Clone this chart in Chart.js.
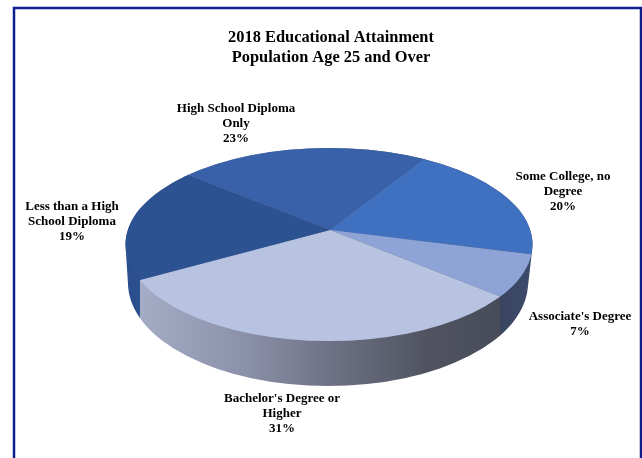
<!DOCTYPE html>
<html>
<head>
<meta charset="utf-8">
<title>2018 Educational Attainment</title>
<script src="https://cdn.jsdelivr.net/npm/chart.js@4/dist/chart.umd.min.js"></script>
<style>
  html, body { margin: 0; padding: 0; background: #fff; overflow: hidden; }
  #wrap { position: relative; width: 642px; height: 458px; }
  #chart-0 { filter: blur(0.35px); } /* the source picture is a soft scan */
</style>
</head>
<body>
<div id="wrap"><canvas id="chart-0"></canvas></div>
<script>
// data
var titleLines = ['2018 Educational Attainment', 'Population Age 25 and Over'];
var categories = ['High School Diploma Only', 'Some College, no Degree', "Associate's Degree", "Bachelor's Degree or Higher", 'Less than a High School Diploma'];
var categoryLines = [['High School Diploma', 'Only'], ['Some College, no', 'Degree'], ["Associate's Degree"], ["Bachelor's Degree or", 'Higher'], ['Less than a High', 'School Diploma']];
var shares = [23, 20, 7, 31, 19];
var sliceColors = ['#3861aa', '#4070c0', '#8ea3d6', '#b7c3e0', '#2d5292'];

// the tilted look: where the pie sits on the page
var tilt = {
  apexX: 330, apexY: 230,
  topX: 329, topY: 244.5, topRx: 203.5, topRy: 96.5,
  botX: 328, botY: 283, botRx: 200, botRy: 103,
  squash: 0.475, zoom: 2, startDeg: 309.4
};
// centre of each label, first line baseline middle
var labelSpots = [[236, 109], [563, 177], [580, 317], [282, 399], [72, 207]];

function ellipsePath(ctx, x, y, rx, ry) {
  ctx.moveTo(x + rx, y);
  ctx.ellipse(x, y, rx, ry, 0, 0, Math.PI * 2);
}

// x where the slice edge at this angle meets the rim of the top ellipse
function rimX(angle) {
  var dx = Math.cos(angle), dy = tilt.squash * Math.sin(angle);
  var ox = (tilt.apexX - tilt.topX) / tilt.topRx, oy = (tilt.apexY - tilt.topY) / tilt.topRy;
  var ux = dx / tilt.topRx, uy = dy / tilt.topRy;
  var a = ux * ux + uy * uy, b = 2 * (ox * ux + oy * uy), c = ox * ox + oy * oy - 1;
  var t = (-b + Math.sqrt(b * b - 4 * a * c)) / (2 * a);
  return tilt.apexX + t * dx;
}

var piePlugin = {
  id: 'tiltedPie',
  beforeDraw: function(chart) {
    var ctx = chart.ctx;
    ctx.save();
    ctx.strokeStyle = '#0c1f8c';
    ctx.lineWidth = 2.5;
    ctx.strokeRect(14, 8, 627, 470); // frame runs off the bottom of the page
    ctx.restore();
  },
  beforeDatasetsDraw: function(chart) {
    var ctx = chart.ctx;
    var arcs = chart.getDatasetMeta(0).data;
    var left = tilt.topX - tilt.topRx, right = tilt.topX + tilt.topRx, span = right - left;
    var xB = (rimX(arcs[3].endAngle) - left) / span;   // bachelor / less than HS edge
    var xA = (rimX(arcs[3].startAngle) - left) / span; // associate / bachelor edge

    // side wall, shaded left to right
    var wall = ctx.createLinearGradient(left, 0, right, 0);
    wall.addColorStop(0, '#2a4e8e');
    wall.addColorStop(xB, '#2a4e8e');
    wall.addColorStop(xB, '#a4acc6');
    wall.addColorStop(xB + (xA - xB) * 0.3, '#8a90a8');
    wall.addColorStop(xB + (xA - xB) * 0.55, '#6c6f82');
    wall.addColorStop(xB + (xA - xB) * 0.8, '#50535f');
    wall.addColorStop(xA, '#484b59');
    wall.addColorStop(xA, '#3a4560');
    wall.addColorStop(1, '#3c4a6c');
    ctx.save();
    ctx.fillStyle = wall;
    ctx.beginPath();
    for (var i = 0; i <= 48; i++) {
      var t = i / 48;
      ellipsePath(ctx,
        tilt.topX + (tilt.botX - tilt.topX) * t,
        tilt.topY + (tilt.botY - tilt.topY) * t,
        tilt.topRx + (tilt.botRx - tilt.topRx) * t,
        tilt.topRy + (tilt.botRy - tilt.topRy) * t);
    }
    ctx.fill();
    ctx.restore();

    // the library draws the slices into this squashed, clipped space
    ctx.save();
    ctx.beginPath();
    ellipsePath(ctx, tilt.topX, tilt.topY, tilt.topRx, tilt.topRy);
    ctx.clip();
    ctx.translate(tilt.apexX, tilt.apexY);
    ctx.scale(tilt.zoom, tilt.zoom * tilt.squash);
    ctx.translate(-arcs[0].x, -arcs[0].y);
  },
  afterDatasetsDraw: function(chart) {
    var ctx = chart.ctx;
    ctx.restore();

    ctx.save();
    ctx.fillStyle = '#000';
    ctx.font = 'bold 13px "Liberation Serif"';
    ctx.textAlign = 'center';
    ctx.textBaseline = 'middle';
    categoryLines.forEach(function(lines, i) {
      var rows = lines.concat(shares[i] + '%');
      rows.forEach(function(row, j) {
        ctx.fillText(row, labelSpots[i][0], labelSpots[i][1] + j * 14.8);
      });
    });
    ctx.restore();
  }
};

var chart0 = new Chart(document.getElementById('chart-0'), {
  type: 'pie',
  data: {
    labels: categories,
    datasets: [{
      data: shares,
      backgroundColor: sliceColors,
      borderWidth: 0,
      clip: false
    }]
  },
  options: {
    responsive: true,
    maintainAspectRatio: false,
    animation: false,
    rotation: tilt.startDeg,
    layout: { padding: { left: 20, top: 0 } },
    plugins: {
      legend: { display: false },
      tooltip: { enabled: false },
      title: {
        display: true,
        text: titleLines,
        color: '#000',
        font: { family: '"Liberation Serif"', size: 16.4, weight: 'bold', lineHeight: 1.22 },
        padding: { top: 27.5, bottom: 10 }
      }
    }
  },
  plugins: [piePlugin]
});
</script>
</body>
</html>
